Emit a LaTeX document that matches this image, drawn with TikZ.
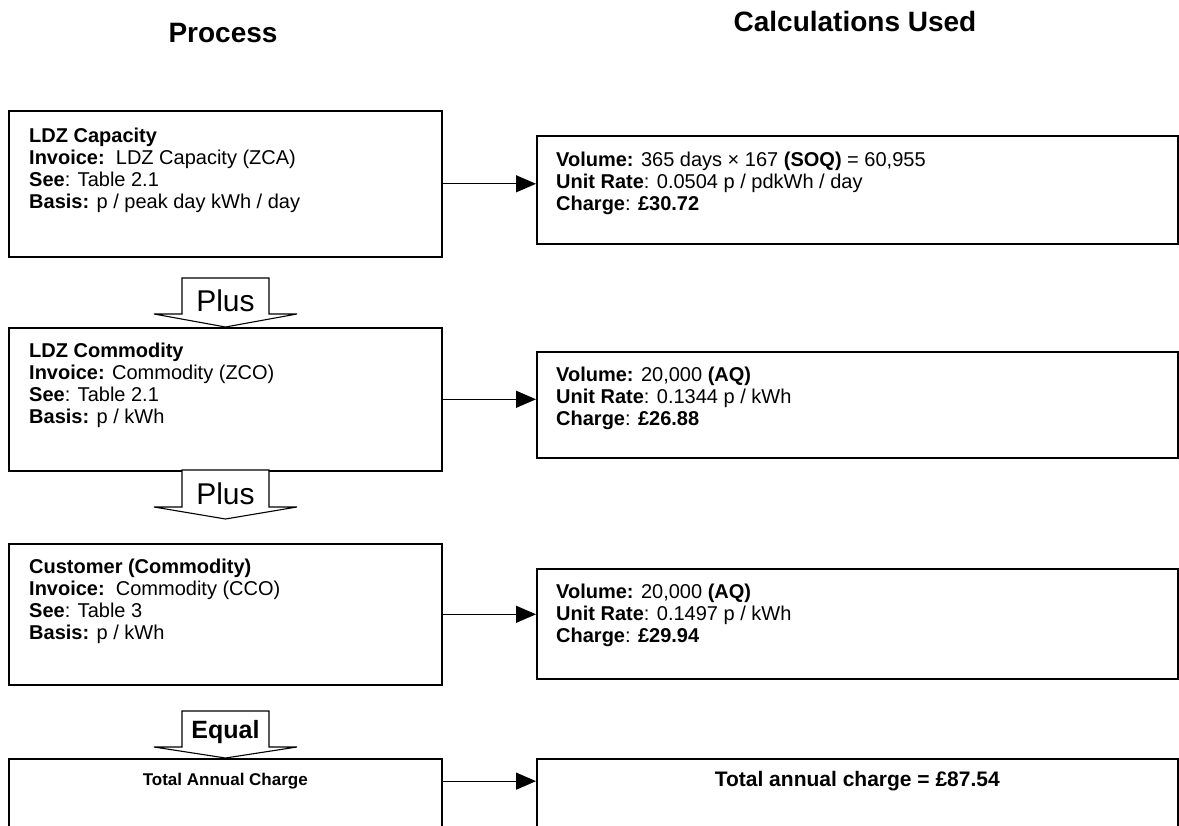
\documentclass[tikz,border=0pt]{standalone}
\usepackage{fontspec}
\setmainfont{Liberation Sans}
\usetikzlibrary{arrows.meta,positioning}

\begin{document}
\begin{tikzpicture}[x=1pt,y=-1pt,
  box/.style={draw,line width=1.6pt,inner sep=0pt,anchor=north west,minimum height=#1},
  leftbox/.style={box=#1,minimum width=433pt},
  rightbox/.style={box=#1,minimum width=641pt},
  note/.style={align=left,inner sep=0pt,font=\fontsize{20}{22}\selectfont},
  title/.style={font=\bfseries\fontsize{28}{30}\selectfont,inner sep=0pt},
  flow/.style={-{Triangle[length=20pt,width=17pt]},line width=1.3pt},
  blockarr/.style={draw,fill=white,line width=1.1pt,line join=miter}]
  \useasboundingbox (0,0) rectangle (1179,826);
  \clip (0,0) rectangle (1179,826);

  % column headings
  \node[title] (procT) at (223,33) {Process};
  \node[title] (calcT) at (855,21) {Calculations Used};

  % process column
  \node[leftbox=146pt] (capL) at (8,110) {};
  \node[leftbox=143pt] (comL) at (8,327) {};
  \node[leftbox=141pt] (cusL) at (8,543) {};
  \node[leftbox=100pt] (totL) at (8,758) {};

  % calculation column
  \node[rightbox=108pt] (capR) at (536,135) {};
  \node[rightbox=106pt] (comR) at (536,351) {};
  \node[rightbox=110pt] (cusR) at (536,568) {};
  \node[rightbox=100pt] (totR) at (536,758) {};

  \node[note,below right=18pt and 21pt of capL.north west] (capLtxt) {%
    \textbf{LDZ Capacity}\\
    \textbf{Invoice:}\ \ LDZ Capacity (ZCA)\\
    \textbf{See}: Table 2.1\\
    \textbf{Basis:} p / peak day kWh / day};
  \node[note,below right=16pt and 21pt of comL.north west] (comLtxt) {%
    \textbf{LDZ Commodity}\\
    \textbf{Invoice:} Commodity (ZCO)\\
    \textbf{See}: Table 2.1\\
    \textbf{Basis:} p / kWh};
  \node[note,below right=16pt and 21pt of cusL.north west] (cusLtxt) {%
    \textbf{Customer (Commodity)}\\
    \textbf{Invoice:}\ \ Commodity (CCO)\\
    \textbf{See}: Table 3\\
    \textbf{Basis:} p / kWh};
  \node[font=\bfseries\fontsize{17}{19}\selectfont,inner sep=0pt,below=15pt of totL.north] (totLtxt) {Total Annual Charge};

  \node[note,below right=17pt and 20pt of capR.north west] (capRtxt) {%
    \textbf{Volume:} 365 days × 167 \textbf{(SOQ)} = 60,955\\
    \textbf{Unit Rate}: 0.0504 p / pdkWh / day\\
    \textbf{Charge}: \textbf{£30.72}};
  \node[note,below right=16pt and 20pt of comR.north west] (comRtxt) {%
    \textbf{Volume:} 20,000 \textbf{(AQ)}\\
    \textbf{Unit Rate}: 0.1344 p / kWh\\
    \textbf{Charge}: \textbf{£26.88}};
  \node[note,below right=16pt and 20pt of cusR.north west] (cusRtxt) {%
    \textbf{Volume:} 20,000 \textbf{(AQ)}\\
    \textbf{Unit Rate}: 0.1497 p / kWh\\
    \textbf{Charge}: \textbf{£29.94}};
  \node[font=\bfseries\fontsize{21}{23}\selectfont,inner sep=0pt,below=13pt of totR.north] (totRtxt) {Total annual charge = £87.54};

  % horizontal connectors
  \draw[flow] (capL.east) -- (capL.east -| capR.west);
  \draw[flow] (comL.east) -- (comL.east -| comR.west);
  \draw[flow] (cusL.east) -- (cusL.east -| cusR.west);
  \draw[flow] (totL.east |- totLtxt) -- (totR.west |- totLtxt);

  % block arrows between the steps
  \path[blockarr] (182,278) -- (269,278) -- (269,314) -- (297,314) -- (225.5,327)
    -- (154,314) -- (182,314) -- cycle;
  \node[font=\fontsize{30}{32}\selectfont,inner sep=0pt,anchor=base] (plusA) at (225.5,312) {Plus};
  \path[blockarr] (182,470) -- (269,470) -- (269,507) -- (297,507) -- (225.5,519)
    -- (154,507) -- (182,507) -- cycle;
  \node[font=\fontsize{30}{32}\selectfont,inner sep=0pt,anchor=base] (plusB) at (225.5,504) {Plus};
  \path[blockarr] (182,711) -- (269,711) -- (269,747) -- (297,747) -- (225.5,758)
    -- (154,747) -- (182,747) -- cycle;
  \node[font=\bfseries\fontsize{25}{27}\selectfont,inner sep=0pt,anchor=base] (equalC) at (225.5,738) {Equal};
\end{tikzpicture}
\end{document}
